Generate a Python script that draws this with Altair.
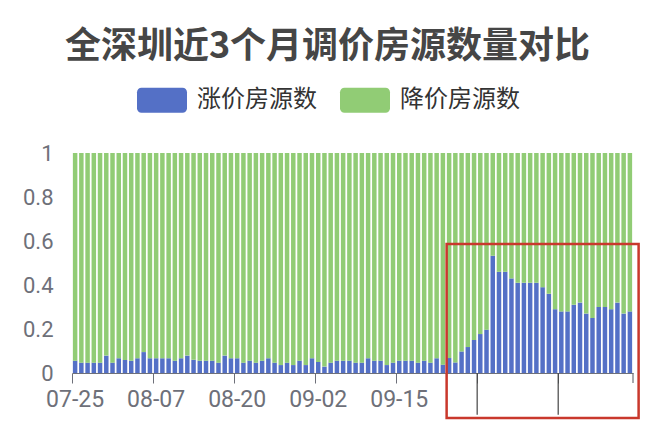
import altair as alt
import pandas as pd

# ---- data ----
dates = [d.strftime("%m-%d") for d in pd.date_range("2023-07-25", periods=90)]
up_share = [
    0.056, 0.047, 0.047, 0.047, 0.047, 0.079, 0.047, 0.067, 0.059, 0.056,
    0.067, 0.095, 0.067, 0.067, 0.067, 0.067, 0.056, 0.067, 0.079, 0.060,
    0.056, 0.056, 0.056, 0.047, 0.079, 0.067, 0.067, 0.047, 0.056, 0.047,
    0.056, 0.067, 0.047, 0.036, 0.047, 0.036, 0.056, 0.036, 0.067, 0.050,
    0.029, 0.047, 0.056, 0.056, 0.056, 0.047, 0.047, 0.067, 0.056, 0.056,
    0.036, 0.047, 0.056, 0.056, 0.056, 0.047, 0.056, 0.047, 0.067,
    0.038, 0.068, 0.048, 0.098, 0.118, 0.150, 0.177, 0.197, 0.533, 0.460,
    0.460, 0.430, 0.410, 0.410, 0.410, 0.410, 0.390, 0.360, 0.290, 0.280,
    0.280, 0.310, 0.320, 0.270, 0.250, 0.300, 0.300, 0.290, 0.320, 0.270,
    0.280,
]
series_names = ["涨价房源数", "降价房源数"]
series_colors = ["#5470c6", "#91cc75"]
tick_dates = ["07-25", "08-07", "08-20", "09-02", "09-15", "09-28", "10-11"]
hidden_labels = ["09-28", "10-11"]
y_ticks = [0, 0.2, 0.4, 0.6, 0.8, 1]

# annotation box (category-index units / share units)
box_x = [60.1, 90.9]
box_y = [0.586, -0.205]
mark_idx = [65, 78, 90]
mark_len = [-0.19, -0.19, -0.045]
mark_col = ["#444444", "#444444", "#6e7079"]

rows = []
for i, d in enumerate(dates):
    rows.append({"date": d, "series": series_names[0], "v": up_share[i], "k": 0})
    rows.append({"date": d, "series": series_names[1], "v": round(1 - up_share[i], 3), "k": 1})
df = pd.DataFrame(rows)

box_df = pd.DataFrame({"x0": [box_x[0]], "x1": [box_x[1]], "y0": [box_y[0]], "y1": [box_y[1]]})
mark_df = pd.DataFrame({"x": mark_idx, "y0": [0] * len(mark_idx), "y1": mark_len, "c": mark_col})

RR = ("M-0.82,-0.5 H0.82 A0.18,0.18 0 0 1 1,-0.32 V0.32 A0.18,0.18 0 0 1 0.82,0.5 "
      "H-0.82 A0.18,0.18 0 0 1 -1,0.32 V-0.32 A0.18,0.18 0 0 1 -0.82,-0.5 Z")

label_expr = "indexof(" + str(hidden_labels) + ", datum.value) >= 0 ? '' : datum.value"

bars = alt.Chart(df).mark_bar().encode(
    x=alt.X("date:O", sort=dates,
            scale=alt.Scale(paddingInner=0.28, paddingOuter=0.14),
            axis=alt.Axis(values=tick_dates, labelExpr=label_expr, title=None, labelAngle=0,
                          bandPosition=-0.19, tickSize=10, domainColor="#6e7079",
                          tickColor="#6e7079", labelColor="#6e7079", labelFontSize=23,
                          labelFont="Roboto", labelPadding=5, labelOverlap=False)),
    y=alt.Y("v:Q", stack="zero", scale=alt.Scale(domain=[0, 1]),
            axis=alt.Axis(values=y_ticks, format="~g", grid=False, domain=False, ticks=False,
                          labelFontSize=22, labelFont="Roboto", labelColor="#6e7079",
                          labelPadding=19, title=None)),
    color=alt.Color("series:N", scale=alt.Scale(domain=series_names, range=series_colors),
                    legend=alt.Legend(orient="none", legendX=65, legendY=-78, direction="horizontal",
                                      title=None, symbolType=RR, symbolSize=2500,
                                      symbolStrokeWidth=0, symbolOpacity=1,
                                      labelFontSize=24, labelFont="Noto Sans CJK SC",
                                      labelColor="#333333", labelOffset=10, columnPadding=23)),
    order=alt.Order("k:Q"),
)

frame = alt.Chart(box_df).mark_rect(fillOpacity=0, stroke="#c9382c", strokeWidth=2.5).encode(
    x=alt.X("x0:Q", scale=alt.Scale(domain=[0, 90], nice=False, zero=False), axis=None),
    x2="x1",
    y=alt.Y("y0:Q", scale=alt.Scale(domain=[0, 1]), axis=None),
    y2="y1",
)

marks = alt.Chart(mark_df).mark_rule(strokeWidth=1.2).encode(
    x=alt.X("x:Q", scale=alt.Scale(domain=[0, 90], nice=False, zero=False), axis=None),
    y=alt.Y("y0:Q", scale=alt.Scale(domain=[0, 1]), axis=None),
    y2="y1",
    color=alt.Color("c:N", scale=None, legend=None),
)

chart = alt.layer(bars, marks, frame).resolve_scale(
    x="independent", y="independent", color="independent"
).properties(
    width=561, height=220,
    padding={"left": 64, "top": 145, "right": 12, "bottom": 50},
    autosize=alt.AutoSizeParams(type="none"),
    title=alt.TitleParams("全深圳近3个月调价房源数量对比", fontSize=36, font="Noto Sans CJK SC",
                          fontWeight="bold", color="#464646", anchor="middle", frame="group",
                          dx=-25, offset=9),
).configure_view(stroke=None)

chart.save("out.html", embed_options={"renderer": "svg", "actions": False})
